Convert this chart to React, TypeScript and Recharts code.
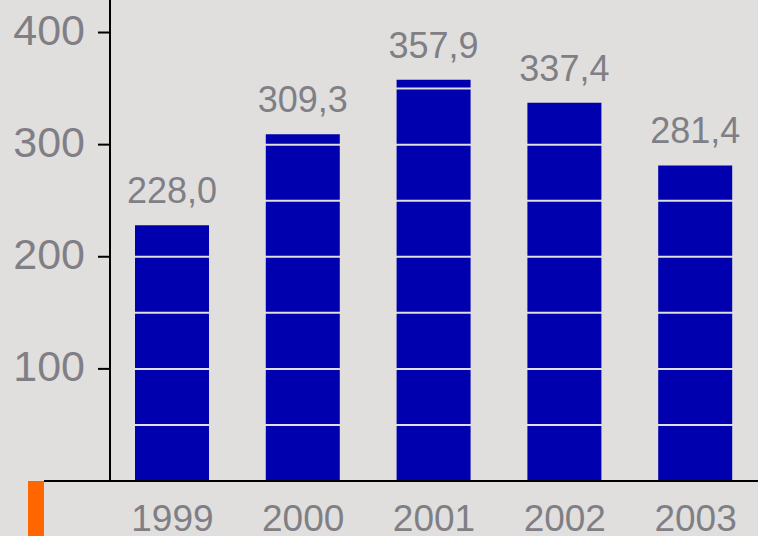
import { Bar, BarChart, LabelList, ReferenceLine, XAxis, YAxis } from "recharts"

const years = ["1999", "2000", "2001", "2002", "2003"]
const values = [228.0, 309.3, 357.9, 337.4, 281.4]
const yTicks = [100, 200, 300, 400]
const gridValues = [50, 100, 150, 200, 250, 300, 350]

const data = years.map((year, i) => ({ year, value: values[i] }))

const BG = "#e0dfde"
const TEXT = "#7f7f85"
const FONT = "'Liberation Sans', Arial, sans-serif"

const fmt = (v: number) => v.toFixed(1).replace(".", ",")

export default function App() {
  return (
    <div
      style={{
        position: "absolute",
        left: 0,
        top: 0,
        width: 758,
        height: 536,
        overflow: "hidden",
        background: BG,
        fontFamily: FONT,
      }}
    >
      <BarChart
        width={761}
        height={536}
        data={data}
        margin={{ top: 0, right: 0, bottom: 0, left: 0 }}
        barSize={74}
      >
        <XAxis
          dataKey="year"
          height={55}
          padding={{ left: -3, right: 0 }}
          tickLine={false}
          tickSize={0}
          tickMargin={24}
          axisLine={{ stroke: "#000", strokeWidth: 2 }}
          tick={{ fill: TEXT, fontSize: 37, fontFamily: FONT }}
        />
        <YAxis
          width={110}
          domain={[0, 429]}
          ticks={yTicks}
          interval={0}
          tickSize={12}
          tickMargin={13}
          tickLine={{ stroke: "#000", strokeWidth: 2 }}
          axisLine={{ stroke: "#000", strokeWidth: 2 }}
          tick={{ fill: TEXT, fontSize: 43, fontFamily: FONT, dy: -3 }}
        />
        <Bar dataKey="value" fill="#0000ae" isAnimationActive={false}>
          <LabelList
            dataKey="value"
            position="top"
            offset={22}
            formatter={(v: any) => fmt(Number(v))}
            fill={TEXT}
            fontSize={36}
            fontFamily={FONT}
          />
        </Bar>
        {gridValues.map((v) => (
          <ReferenceLine key={v} y={v} stroke={BG} strokeWidth={2} />
        ))}
      </BarChart>
      <div
        style={{
          position: "absolute",
          left: 44,
          top: 480,
          width: 70,
          height: 2,
          background: "#000",
        }}
      />
      <div
        style={{
          position: "absolute",
          left: 28,
          top: 481,
          width: 16,
          height: 55,
          background: "#ff6600",
        }}
      />
    </div>
  )
}
